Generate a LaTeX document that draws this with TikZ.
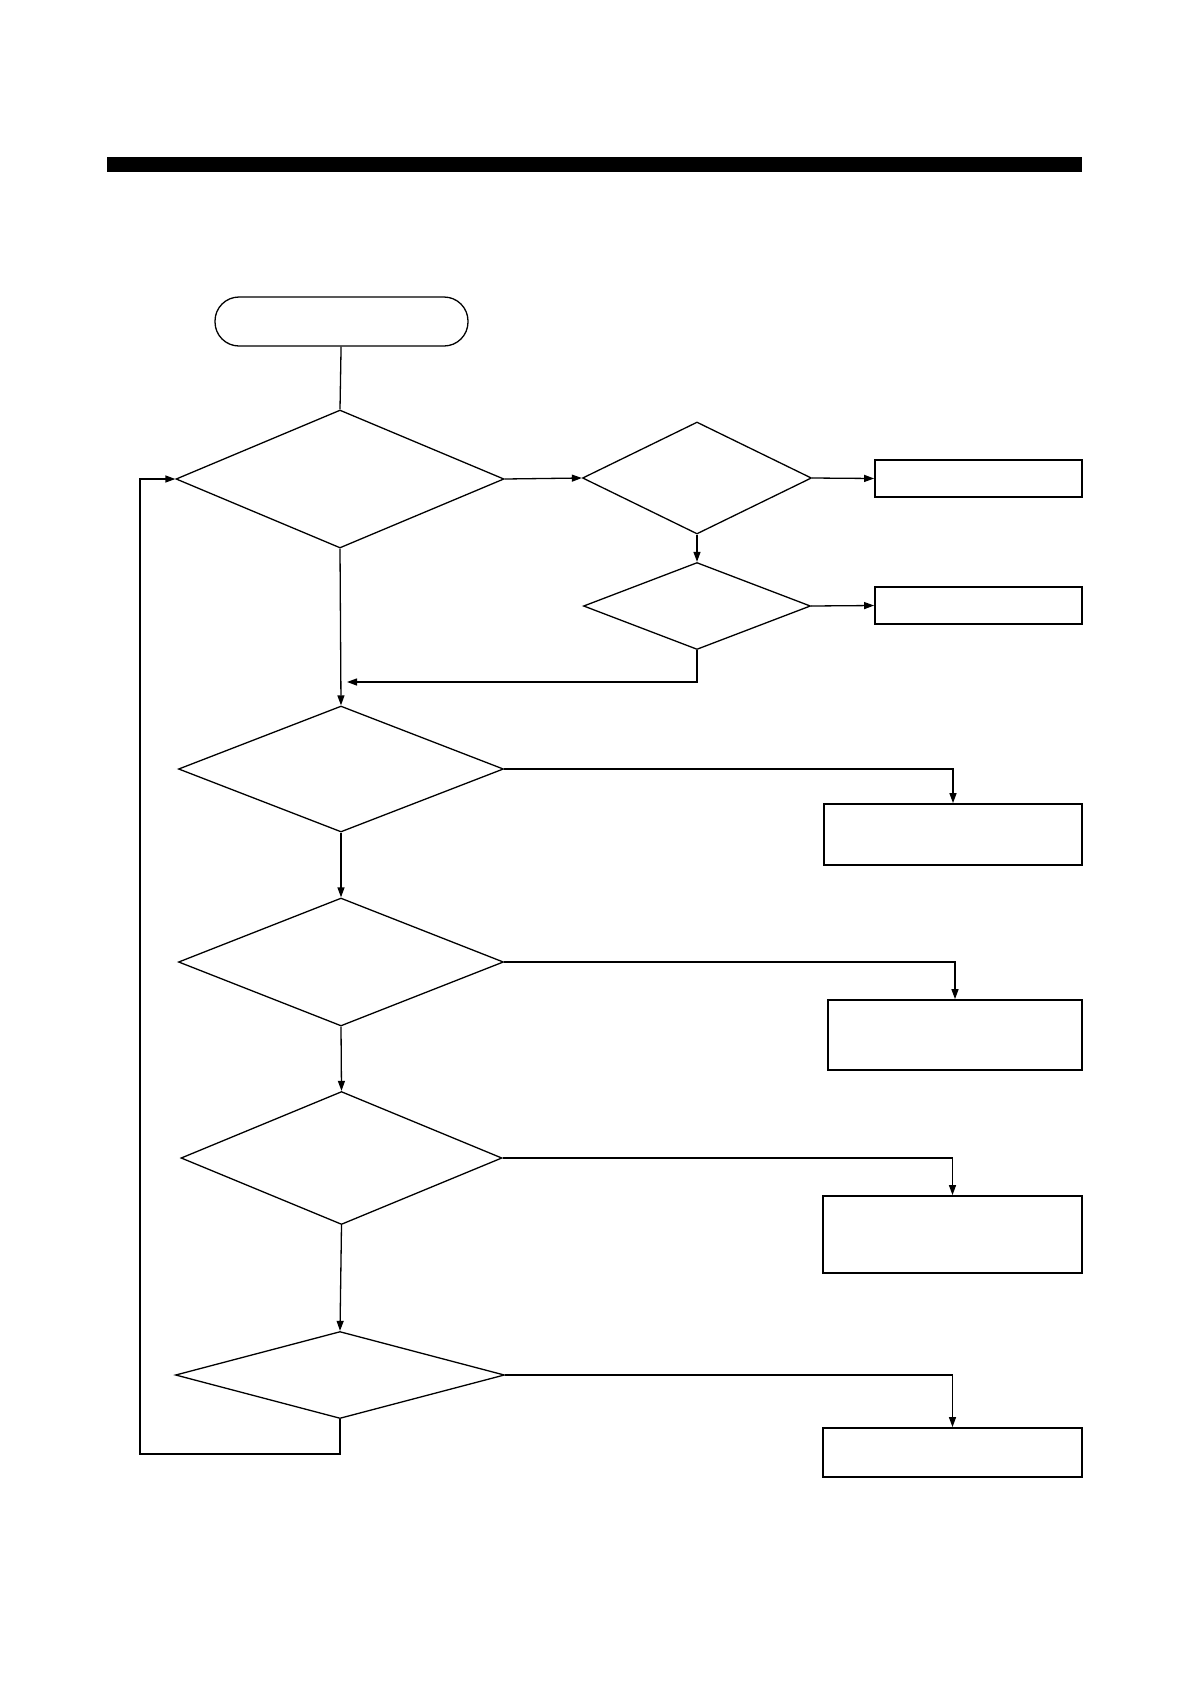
\documentclass[tikz,border=0pt]{standalone}
\usetikzlibrary{positioning,arrows.meta,shapes.geometric}

\begin{document}
\begin{tikzpicture}[
  x=1pt,y=-1pt,
  line width=1.3pt,
  term/.style={rectangle,rounded corners=24pt,draw,minimum width=253pt,minimum height=49pt,inner sep=0pt},
  decision/.style={diamond,draw,inner sep=0pt},
  process/.style={rectangle,draw,line width=1.8pt,inner sep=0pt},
  arr/.style={-{Triangle[length=10pt,width=7pt]}},
]
\useasboundingbox (0,0) rectangle (1190,1684);
% ===== heading bar =====
\node[fill=black,minimum width=975pt,minimum height=15pt,inner sep=0pt] (bar) at (594.5,164.5) {};

% ===== main column =====
\node[term] (start) at (341.5,321.5) {};
\node[decision,minimum width=328pt,minimum height=138pt] (d1) at (340,479) {};
\node[decision,minimum width=325pt,minimum height=126pt] (d4) at (341,769) {};
\node[decision,minimum width=325pt,minimum height=128pt] (d5) at (341,962) {};
\node[decision,minimum width=321pt,minimum height=133pt] (d6) at (341.5,1158) {};
\node[decision,minimum width=329pt,minimum height=87pt] (d7) at (340,1375) {};

% ===== right branch of first test =====
\node[decision,minimum width=229pt,minimum height=112pt] (d2) at (697,478) {};
\node[decision,minimum width=227pt,minimum height=87pt] (d3) at (697,606) {};
\node[process,minimum width=207pt,minimum height=37pt] (b1) at (978.5,478.5) {};
\node[process,minimum width=207pt,minimum height=37pt] (b2) at (978.5,605.5) {};

% ===== result boxes =====
\node[process,minimum width=258pt,minimum height=61pt] (b3) at (953,834.5) {};
\node[process,minimum width=254pt,minimum height=70pt] (b4) at (955,1035) {};
\node[process,minimum width=259pt,minimum height=77pt] (b5) at (952.5,1234.5) {};
\node[process,minimum width=259pt,minimum height=49pt] (b6) at (952.5,1452.5) {};

\coordinate (merge) at (347,682);
\coordinate (back) at (140,1454);

\draw (start) -- (d1.north);
\draw[arr] (d1.east) -- (d2.west);
\draw[arr] (d2.east) -- (b1.west);
\draw[arr] (d2.south) -- (d3.north);
\draw[arr] (d3.east) -- (b2.west);
\draw[arr] (d3.south) |- (merge);
\draw[arr] (d1.south) -- (d4.north);
\draw[arr] (d4.south) -- (d5.north);
\draw[arr] (d5.south) -- (d6.north);
\draw[arr] (d6.south) -- (d7.north);
\draw[arr] (d4.east) -| (b3.north);
\draw[arr] (d5.east) -| (b4.north);
\draw[arr] (d6.east) -| (b5.north);
\draw[arr] (d7.east) -| (b6.north);
\draw[arr] (d7.south) |- (back) |- (d1.west);
\end{tikzpicture}
\end{document}
